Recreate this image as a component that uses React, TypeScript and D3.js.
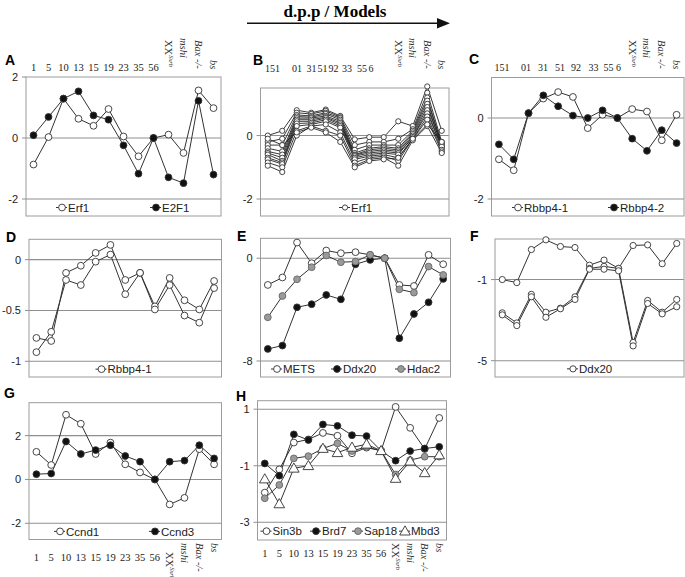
import React from 'react';
import * as d3 from 'd3';

const categories = ['1', '5', '10', '13', '15', '19', '23', '35', '56', 'XX', 'mshi', 'Bax', 'bs'];
const numLabels = ['1', '5', '10', '13', '15', '19', '23', '35', '56'];
const shiftedLabels = ['151', '01', '31', '51', '92', '33', '55', '6'];

// Panel A
const aErf1 = [-0.87, 0.03, 1.29, 0.63, 0.40, 0.95, 0.05, -0.60, 0, 0.11, -0.49, 1.56, 0.98];
const aE2F1 = [0.09, 0.69, 1.29, 1.53, 0.74, 0.60, -0.24, -1.17, 0, -1.29, -1.48, 1.22, -1.20];
// Panel B (Erf1 probes)
const bErf1 = [
  [0.0, 0.15, 0.80, 0.72, 0.82, 0.62, -0.12, -0.05, -0.05, 0.45, 0.30, 1.55, 0.15],
  [-0.2, -0.1, 0.72, 0.68, 0.78, 0.58, -0.3, -0.2, -0.2, -0.1, 0.20, 1.35, -0.2],
  [-0.3, -0.3, 0.65, 0.62, 0.72, 0.55, -0.45, -0.3, -0.3, -0.3, 0.15, 1.2, -0.3],
  [-0.4, -0.5, 0.6, 0.58, 0.68, 0.5, -0.55, -0.4, -0.35, -0.4, 0.1, 1.1, -0.25],
  [-0.5, -0.6, 0.55, 0.55, 0.62, 0.45, -0.6, -0.45, -0.4, -0.45, 0.05, 1.0, -0.35],
  [-0.55, -0.7, 0.5, 0.5, 0.58, 0.4, -0.62, -0.5, -0.45, -0.5, 0.0, 0.9, -0.3],
  [-0.6, -0.8, 0.45, 0.45, 0.55, 0.35, -0.65, -0.55, -0.5, -0.55, -0.05, 0.8, -0.4],
  [-0.7, -0.85, 0.38, 0.4, 0.5, 0.3, -0.7, -0.6, -0.55, -0.6, -0.05, 0.7, -0.35],
  [-0.75, -0.9, 0.3, 0.35, 0.45, 0.25, -0.75, -0.65, -0.6, -0.7, -0.1, 0.6, -0.45],
  [-0.85, -1.0, 0.15, 0.3, 0.35, 0.1, -0.85, -0.7, -0.65, -0.8, -0.1, 0.5, -0.5],
  [-0.95, -1.15, 0.0, 0.3, 0.15, 0.0, -0.95, -0.75, -0.7, -0.95, -0.15, 0.3, -0.55],
  [-0.1, -0.3, 0.1, 0.25, 0.1, -0.2, -1.0, -0.8, -0.75, -0.7, -0.1, 0.35, -0.2],
];
// Panel C
const cRbbp41 = [-1.02, -1.29, 0.12, 0.48, 0.64, 0.52, -0.25, 0.08, 0, 0.22, 0.16, -0.55, 0.08];
const cRbbp42 = [-0.65, -1.02, 0.12, 0.56, 0.29, 0.06, 0, 0.19, 0, -0.51, -0.81, -0.30, -0.62];
// Panel D
const dRbbp41a = [-0.77, -0.80, -0.13, -0.06, 0.066, 0.145, -0.20, -0.13, -0.46, -0.18, -0.40, -0.49, -0.21];
const dRbbp41b = [-0.91, -0.71, -0.20, -0.25, -0.02, 0.05, -0.34, -0.13, -0.49, -0.25, -0.55, -0.62, -0.28];
// Panel E
const eMETS = [-2.08, -1.5, 1.22, -0.39, 0.6, 0.39, 0.47, 0.26, 0, -2.08, -2.16, 0.26, -0.47];
const eDdx20 = [-7.06, -6.8, -3.82, -3.58, -2.86, -3.2, -0.47, -0.13, 0, -6.23, -4.34, -3.43, -1.61];
const eHdac2 = [-4.6, -2.94, -1.64, -0.7, 0.21, -0.31, -0.26, 0.26, 0, -2.42, -2.68, -0.65, -1.3];
// Panel F
const fDdx20a = [-1, -1.15, 0.48, 0.96, 0.63, 0.58, -0.29, -0.04, -0.45, 0.68, 0.71, -0.22, 0.78];
const fDdx20b = [-2.64, -3.14, -1.73, -2.61, -2.41, -1.85, -0.45, -0.35, -0.45, -4.1, -2.03, -2.61, -1.98];
const fDdx20c = [-2.74, -3.27, -1.85, -2.86, -2.44, -1.98, -0.49, -0.49, -0.57, -4.27, -2.18, -2.69, -2.34];
// Panel G
const gCcnd1 = [1.26, 0.66, 2.95, 2.54, 1.16, 1.68, 0.69, 0.32, 0, -1.14, -0.84, 1.38, 0.69];
const gCcnd3 = [0.24, 0.27, 1.73, 1.16, 1.34, 1.56, 1.07, 0.81, 0, 0.81, 0.86, 1.56, 0.96];
// Panel H
const hSin3b = [-1.95, -1.13, -0.18, -0.07, 0.16, 0.06, -0.56, -0.36, -0.47, 1.08, 0.34, -0.41, 0.69];
const hBrd7 = [-0.92, -1.35, 0.11, -0.09, 0.46, 0.41, 0.08, 0.05, -0.47, -0.82, -0.48, -0.39, -0.33];
const hSap18 = [-2.15, -1.68, -0.74, -0.66, -0.39, -0.21, -0.48, -0.33, -0.47, -1.31, -0.8, -0.68, -0.68];
const hMbd3 = [-1.47, -2.35, -1.09, -1.0, -0.39, -0.54, -0.35, -0.24, -0.47, -1.45, -0.84, -1.25, -0.62];

const SANS = 'Liberation Sans, Arial, sans-serif';
const SERIF = 'Liberation Serif, Times New Roman, serif';
const WHITE = '#ffffff';
const BLACK = '#111111';
const GRAY = '#9a9a9a';
const BOX = '#9c9c9c';

type Shape = 'circle' | 'triangle';
type Series = { values: number[]; fill: string; shape?: Shape };
type LegendItem = { label: string; fill: string; shape?: Shape; x: number };
type Cfg = {
  letter: string; lx: number; ly: number;
  left: number; right: number; top: number; bottom: number; legendBottom: number;
  domain: [number, number]; ticks: number[]; grid: number[];
  series: Series[]; legend: LegendItem[];
  r: number; lineW: number; lineColor: string;
  labels: 'top' | 'topShift' | 'bottom' | 'none';
  shiftX?: number[];
  numY: number; rotY: number[];
};

function Marker({ x, y, fill, shape, r }: { x: number; y: number; fill: string; shape?: Shape; r: number }) {
  const stroke = fill === GRAY ? '#666' : '#333';
  if (shape === 'triangle') {
    const p = d3.symbol(d3.symbolTriangle, r * r * 4.2)() as string;
    return <path d={p} transform={`translate(${x},${y + 0.8})`} fill={fill} stroke={stroke} strokeWidth={0.9} />;
  }
  return <circle cx={x} cy={y} r={r} fill={fill} stroke={stroke} strokeWidth={0.9} />;
}

function Panel({ c }: { c: Cfg }) {
  const x = d3.scalePoint<string>().domain(categories).range([c.left, c.right]).padding(0.5);
  const y = d3.scaleLinear().domain(c.domain).range([c.bottom, c.top]);
  const line = d3.line<number>().x((_, i) => x(categories[i]) as number).y((v) => y(v));
  const legY = (c.bottom + c.legendBottom) / 2;
  const rotX = (i: number) => (x(categories[9 + i]) as number) - 3.5;
  const showRot = c.labels !== 'none';
  return (
    <g>
      <text x={c.lx} y={c.ly} fontFamily={SANS} fontWeight="bold" fontSize={14}>{c.letter}</text>
      {c.grid.map((g) => (
        <line key={g} x1={c.left} x2={c.right} y1={y(g)} y2={y(g)} stroke="#8f8f8f" strokeWidth={1.1} />
      ))}
      <rect x={c.left} y={c.top} width={c.right - c.left} height={c.legendBottom - c.top} fill="none" stroke={BOX} strokeWidth={1} />
      <line x1={c.left} x2={c.right} y1={c.bottom} y2={c.bottom} stroke="#8f8f8f" strokeWidth={1.1} />
      {c.ticks.map((t) => (
        <g key={t}>
          <line x1={c.left - 4} x2={c.left} y1={y(t)} y2={y(t)} stroke="#8f8f8f" />
          <text x={c.left - 8} y={y(t)} dy="0.36em" textAnchor="end" fontFamily={SANS} fontSize={11} fill="#222">{String(t)}</text>
        </g>
      ))}
      {c.series.map((s, i) => (
        <path key={'l' + i} d={line(s.values) as string} fill="none" stroke={c.lineColor} strokeWidth={c.lineW} />
      ))}
      {c.series.map((s, i) => (
        <g key={'m' + i}>
          {s.values.map((v, j) => (
            <Marker key={j} x={x(categories[j]) as number} y={y(v)} fill={s.fill} shape={s.shape} r={c.r} />
          ))}
        </g>
      ))}
      {c.legend.map((l) => (
        <g key={l.label}>
          <line x1={l.x - 6} x2={l.x + 5} y1={legY} y2={legY} stroke="#333" strokeWidth={1} />
          <Marker x={l.x} y={legY} fill={l.fill} shape={l.shape} r={c.r} />
          <text x={l.x + 6} y={legY} dy="0.36em" fontFamily={SANS} fontSize={11.5} fill="#222">{l.label}</text>
        </g>
      ))}
      {(c.labels === 'top' || c.labels === 'bottom') && (
        <g fontFamily={SERIF} fontSize={10.5} fill="#222" textAnchor="middle">
          {numLabels.map((n, i) => (
            <text key={n} x={x(categories[i]) as number} y={c.numY}>{n}</text>
          ))}
        </g>
      )}
      {c.labels === 'topShift' && (
        <g fontFamily={SERIF} fontSize={10} fill="#222" textAnchor="middle">
          {shiftedLabels.map((n, i) => (
            <text key={n + i} x={c.left + (c.shiftX as number[])[i]} y={c.numY}>{n}</text>
          ))}
        </g>
      )}
      {showRot && (
        <g fontFamily={SERIF} fontSize={10.5} fill="#333">
          <text transform={`translate(${rotX(0)},${c.rotY[0]}) rotate(90)`}>
            XX<tspan dy={-3.5} fontSize={6.5} fontStyle="italic">Sxrb</tspan>
          </text>
          <text transform={`translate(${rotX(1)},${c.rotY[1]}) rotate(90)`} fontStyle="italic">mshi</text>
          <text transform={`translate(${rotX(2)},${c.rotY[2]}) rotate(90)`} fontStyle="italic">Bax -/-</text>
          <text transform={`translate(${rotX(3)},${c.rotY[3]}) rotate(90)`} fontStyle="italic">bs</text>
        </g>
      )}
    </g>
  );
}

const topRot = [40, 38, 40, 60];

const panels: Cfg[] = [
  {
    letter: 'A', lx: 5, ly: 65, left: 26, right: 221, top: 77, bottom: 199, legendBottom: 216,
    domain: [-2, 2], ticks: [2, 0, -2], grid: [0],
    series: [{ values: aErf1, fill: WHITE }, { values: aE2F1, fill: BLACK }],
    legend: [{ label: 'Erf1', fill: WHITE, x: 62 }, { label: 'E2F1', fill: BLACK, x: 156 }],
    r: 3.4, lineW: 1, lineColor: '#333', labels: 'top', numY: 71, rotY: topRot,
  },
  {
    letter: 'B', lx: 253, ly: 65, left: 260.5, right: 449, top: 88, bottom: 199, legendBottom: 216,
    domain: [-2, 1.5], ticks: [0, -2], grid: [0],
    series: bErf1.map((v) => ({ values: v, fill: WHITE })),
    legend: [{ label: 'Erf1', fill: WHITE, x: 345 }],
    r: 2.6, lineW: 0.9, lineColor: '#222', labels: 'topShift',
    shiftX: [12, 36.5, 51, 62, 73, 86.5, 101.5, 110.5], numY: 72, rotY: topRot,
  },
  {
    letter: 'C', lx: 469, ly: 64, left: 491.5, right: 684, top: 77.5, bottom: 199, legendBottom: 216,
    domain: [-2, 1], ticks: [0, -2], grid: [0],
    series: [{ values: cRbbp41, fill: WHITE }, { values: cRbbp42, fill: BLACK }],
    legend: [{ label: 'Rbbp4-1', fill: WHITE, x: 518 }, { label: 'Rbbp4-2', fill: BLACK, x: 614 }],
    r: 3.4, lineW: 1, lineColor: '#333', labels: 'topShift',
    shiftX: [10.5, 34.5, 51.5, 68.5, 84.5, 102, 117, 127], numY: 71, rotY: topRot,
  },
  {
    letter: 'D', lx: 6, ly: 242, left: 29, right: 221.5, top: 239.3, bottom: 361.3, legendBottom: 377,
    domain: [-1, 0.2], ticks: [0, -0.5, -1], grid: [0, -0.5],
    series: [{ values: dRbbp41a, fill: WHITE }, { values: dRbbp41b, fill: WHITE }],
    legend: [{ label: 'Rbbp4-1', fill: WHITE, x: 101.5 }],
    r: 3.4, lineW: 1, lineColor: '#333', labels: 'none', numY: 0, rotY: topRot,
  },
  {
    letter: 'E', lx: 237, ly: 241, left: 260.5, right: 450.5, top: 238.3, bottom: 361, legendBottom: 377,
    domain: [-8, 1.55], ticks: [0, -8], grid: [0],
    series: [{ values: eMETS, fill: WHITE }, { values: eDdx20, fill: BLACK }, { values: eHdac2, fill: GRAY }],
    legend: [{ label: 'METS', fill: WHITE, x: 277 }, { label: 'Ddx20', fill: BLACK, x: 337 }, { label: 'Hdac2', fill: GRAY, x: 401 }],
    r: 3.4, lineW: 1, lineColor: '#333', labels: 'none', numY: 0, rotY: topRot,
  },
  {
    letter: 'F', lx: 470, ly: 241, left: 495, right: 684, top: 239, bottom: 360.7, legendBottom: 377,
    domain: [-5, 1], ticks: [-1, -5], grid: [-1],
    series: [{ values: fDdx20a, fill: WHITE }, { values: fDdx20b, fill: WHITE }, { values: fDdx20c, fill: WHITE }],
    legend: [{ label: 'Ddx20', fill: WHITE, x: 573 }],
    r: 3.1, lineW: 1, lineColor: '#333', labels: 'none', numY: 0, rotY: topRot,
  },
  {
    letter: 'G', lx: 4, ly: 398, left: 29, right: 221.5, top: 402.7, bottom: 523.3, legendBottom: 539.5,
    domain: [-2, 3.5], ticks: [2, 0, -2], grid: [2, 0],
    series: [{ values: gCcnd1, fill: WHITE }, { values: gCcnd3, fill: BLACK }],
    legend: [{ label: 'Ccnd1', fill: WHITE, x: 60 }, { label: 'Ccnd3', fill: BLACK, x: 155 }],
    r: 3.4, lineW: 1, lineColor: '#333', labels: 'bottom', numY: 561, rotY: [552, 543, 543, 543],
  },
  {
    letter: 'H', lx: 236, ly: 401, left: 257.5, right: 446.5, top: 400.7, bottom: 522.3, legendBottom: 540,
    domain: [-3, 1.3], ticks: [1, -1, -3], grid: [1, -1],
    series: [
      { values: hSin3b, fill: WHITE }, { values: hBrd7, fill: BLACK },
      { values: hSap18, fill: GRAY }, { values: hMbd3, fill: WHITE, shape: 'triangle' },
    ],
    legend: [
      { label: 'Sin3b', fill: WHITE, x: 266.5 }, { label: 'Brd7', fill: BLACK, x: 316 },
      { label: 'Sap18', fill: GRAY, x: 358 }, { label: 'Mbd3', fill: WHITE, shape: 'triangle', x: 405 },
    ],
    r: 3.4, lineW: 1, lineColor: '#333', labels: 'bottom', numY: 557, rotY: [543, 543, 543, 543],
  },
];

export default function App() {
  return (
    <svg width={685} height={577} style={{ position: 'absolute', left: 0, top: 0, background: '#fff' }}>
      <rect x={0} y={0} width={685} height={577} fill="#fff" />
      <text x={335} y={17} textAnchor="middle" fontFamily={SERIF} fontWeight="bold" fontSize={17}>d.p.p / Models</text>
      <line x1={247} x2={440} y1={23.3} y2={23.3} stroke="#111" strokeWidth={1.6} />
      <path d="M437,18 L450,23.3 L437,28.6 Z" fill="#111" />
      {panels.map((p) => (
        <Panel key={p.letter} c={p} />
      ))}
    </svg>
  );
}
